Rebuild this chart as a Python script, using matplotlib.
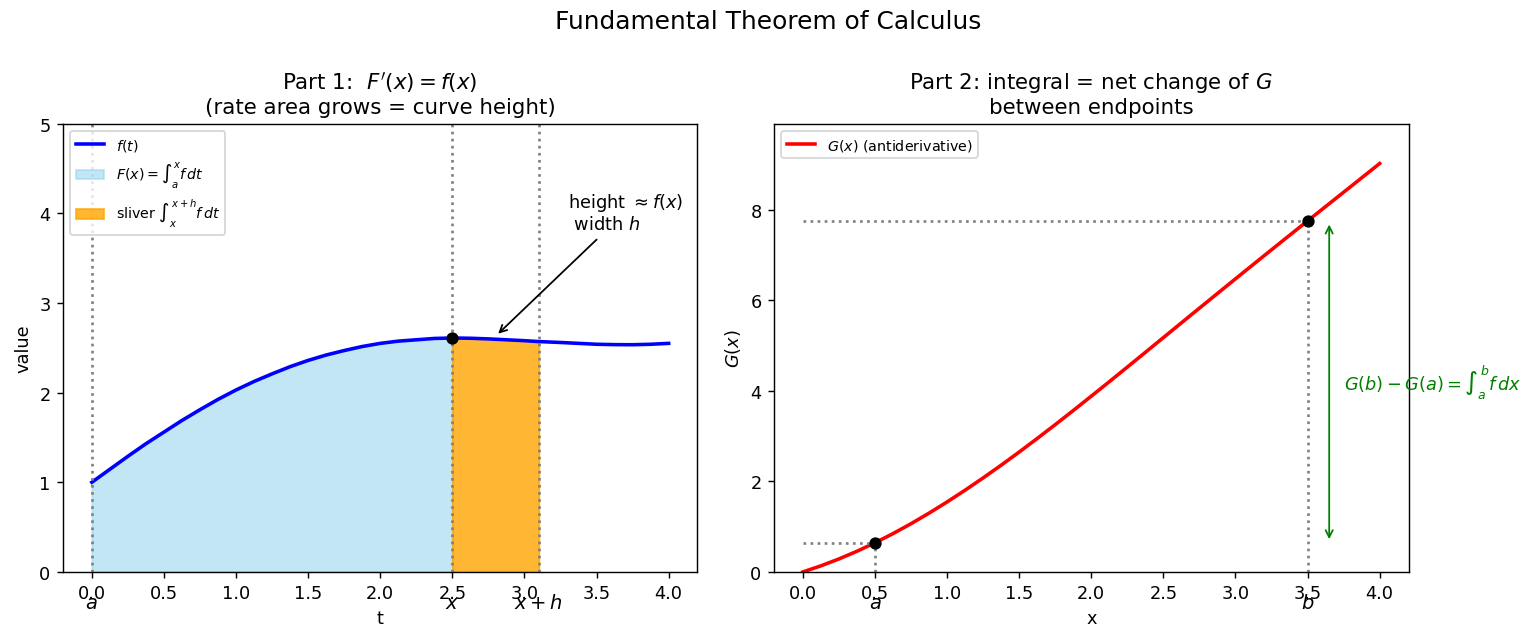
import numpy as np
import matplotlib
matplotlib.use("Agg")
import matplotlib.pyplot as plt

# values
t = np.array([0.0, 0.125, 0.25, 0.375, 0.5, 0.625, 0.75, 0.875, 1.0, 1.125,
              1.25, 1.375, 1.5, 1.625, 1.75, 1.875, 2.0, 2.125, 2.25, 2.375,
              2.5, 2.625, 2.75, 2.875, 3.0, 3.1, 3.25, 3.375, 3.5, 3.625,
              3.75, 3.875, 4.0])
f_vals = np.array([1.00, 1.145, 1.29, 1.43, 1.56, 1.69, 1.81, 1.925, 2.03, 2.125,
                   2.21, 2.29, 2.36, 2.42, 2.47, 2.515, 2.55, 2.575, 2.59, 2.605,
                   2.61, 2.607, 2.60, 2.59, 2.58, 2.57, 2.56, 2.55, 2.54, 2.536,
                   2.535, 2.54, 2.55])
G_vals = np.array([0.00, 0.134, 0.286, 0.456, 0.643, 0.846, 1.065, 1.298, 1.545, 1.805,
                   2.076, 2.357, 2.648, 2.947, 3.253, 3.565, 3.882, 4.202, 4.525, 4.850,
                   5.176, 5.502, 5.827, 6.151, 6.474, 6.732, 7.117, 7.436, 7.754, 8.071,
                   8.388, 8.705, 9.023])

x0 = 2.5      # x
x1 = 3.1      # x + h
a_pt = 0.5
b_pt = 3.5
G_a = 0.643
G_b = 7.754
f_x = 2.61

fig = plt.figure(figsize=(12, 5.023), dpi=128)
ax1 = fig.add_axes([0.041, 0.109, 0.4131, 0.697])
ax2 = fig.add_axes([0.5039, 0.109, 0.4131, 0.697])
fig.suptitle("Fundamental Theorem of Calculus", fontsize=14, y=0.985)

# ---- Part 1 ----
ax1.plot(t, f_vals, color='blue', lw=2, label=r'$f(t)$')
ax1.fill_between(t, f_vals, where=(t <= x0), color='skyblue', alpha=0.5,
                 label=r'$F(x)=\int_a^x f\,dt$')
ax1.fill_between(t, f_vals, where=(t >= x0) & (t <= x1), color='orange', alpha=0.8,
                 label=r'sliver $\int_x^{x+h} f\,dt$')
for xv in [0.0, x0, x1]:
    ax1.axvline(xv, color='gray', ls=':', lw=1.5)
ax1.scatter([x0], [f_x], color='black', s=35, zorder=5)
ax1.annotate('height $\\approx f(x)$\n width $h$', xy=(2.8, 2.63), xytext=(3.3, 3.82),
             fontsize=10, arrowprops=dict(arrowstyle='->', color='black'))
trans1 = ax1.get_xaxis_transform()
for xv, lab in [(0.0, '$a$'), (x0, '$x$'), (x1, '$x+h$')]:
    ax1.text(xv, -0.048, lab, transform=trans1, ha='center', va='top', fontsize=11)
ax1.set_xlim(-0.2, 4.2)
ax1.set_ylim(0, 5)
ax1.set_xlabel('t')
ax1.set_ylabel('value')
ax1.set_title("Part 1:  $F'(x) = f(x)$\n(rate area grows = curve height)", fontsize=12)
ax1.legend(loc='upper left', fontsize=8)

# ---- Part 2 ----
ax2.plot(t, G_vals, color='red', lw=2, label=r'$G(x)$ (antiderivative)')
ax2.plot([0, a_pt], [G_a, G_a], color='gray', ls=':', lw=1.5)
ax2.plot([0, b_pt], [G_b, G_b], color='gray', ls=':', lw=1.5)
ax2.plot([a_pt, a_pt], [0, G_a], color='gray', ls=':', lw=1.5)
ax2.plot([b_pt, b_pt], [0, G_b], color='gray', ls=':', lw=1.5)
ax2.scatter([a_pt, b_pt], [G_a, G_b], color='black', s=35, zorder=5)
ax2.annotate('', xy=(3.65, G_a), xytext=(3.65, G_b),
             arrowprops=dict(arrowstyle='<->', color='green'))
ax2.text(3.75, (G_a + G_b) / 2, r'$G(b)-G(a)=\int_a^b f\,dx$', color='green',
         va='center', ha='left', fontsize=10)
trans2 = ax2.get_xaxis_transform()
for xv, lab in [(a_pt, '$a$'), (b_pt, '$b$')]:
    ax2.text(xv, -0.048, lab, transform=trans2, ha='center', va='top', fontsize=11)
ax2.set_xlim(-0.2, 4.2)
ax2.set_ylim(0, 9.9)
ax2.set_xlabel('x')
ax2.set_ylabel('$G(x)$')
ax2.set_title("Part 2: integral = net change of $G$\nbetween endpoints", fontsize=12)
ax2.legend(loc='upper left', fontsize=8)

fig.savefig('out.png', dpi=128)
